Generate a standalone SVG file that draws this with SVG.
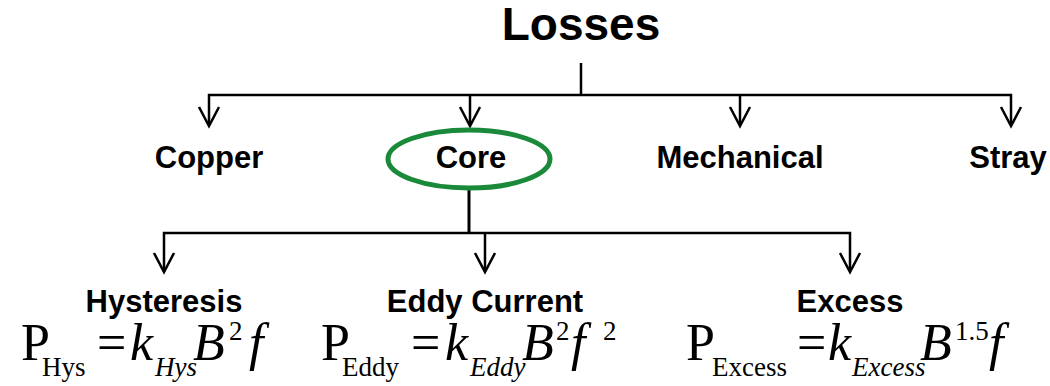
<svg xmlns="http://www.w3.org/2000/svg" width="1050" height="386" viewBox="0 0 1050 386">
<style>
.ln{stroke:#000;stroke-width:2.5;fill:none}
.ah{stroke:#000;stroke-width:2.5;fill:none;stroke-linejoin:miter}
.lbl{font-family:"Liberation Sans",Arial,sans-serif;font-weight:bold;font-size:31px;fill:#000;text-anchor:middle}
.ttl{font-family:"Liberation Sans",Arial,sans-serif;font-weight:bold;font-size:46px;fill:#000;text-anchor:middle}
.eq{font-family:"Liberation Serif","Times New Roman",serif;fill:#000}
.big{font-size:52px}
.sm{font-size:27px}
.it{font-style:italic}
</style>
<defs>
<path id="arr" class="ah" d="M-10,-19 L0,0 L10,-19"/>
</defs>
<rect width="1050" height="386" fill="#fff"/>
<g id="connectors">
<path class="ln" d="M581,63 V95"/>
<path class="ln" d="M209,125 V95 H1011 V125"/>
<path class="ln" d="M470,95 V125"/>
<path class="ln" d="M740,95 V125"/>
<use href="#arr" x="209" y="126"/>
<use href="#arr" x="470" y="126"/>
<use href="#arr" x="740" y="126"/>
<use href="#arr" x="1011" y="126"/>
<path class="ln" style="stroke-width:3" d="M469,190 V234"/>
<path class="ln" d="M164,271 V233 H850 V271"/>
<path class="ln" d="M485,233 V271"/>
<use href="#arr" x="164" y="272"/>
<use href="#arr" x="485" y="272"/>
<use href="#arr" x="850" y="272"/>
</g>
<g id="losses"><text class="ttl" x="581" y="40">Losses</text></g>
<g id="copper"><text class="lbl" x="209" y="168">Copper</text></g>
<g id="core">
<ellipse cx="469" cy="159" rx="81" ry="29" fill="none" stroke="#1a8a3a" stroke-width="5"/>
<text class="lbl" x="471" y="168">Core</text>
</g>
<g id="mechanical"><text class="lbl" x="740" y="168">Mechanical</text></g>
<g id="stray"><text class="lbl" x="1008" y="168">Stray</text></g>
<g id="hysteresis">
<text class="lbl" x="164" y="312">Hysteresis</text>
<text class="eq">
<tspan class="big" x="21" y="360">P</tspan><tspan class="sm" x="42" y="376">Hys</tspan><tspan class="big" x="97" y="360">=</tspan><tspan class="big it" x="130" y="360">k</tspan><tspan class="sm it" x="155" y="376">Hys</tspan><tspan class="big it" x="193" y="360">B</tspan><tspan class="sm" x="229" y="340">2</tspan><tspan class="big it" x="249" y="360">f</tspan>
</text>
</g>
<g id="eddy">
<text class="lbl" x="485" y="312">Eddy Current</text>
<text class="eq">
<tspan class="big" x="321" y="360">P</tspan><tspan class="sm" x="342" y="376">Eddy</tspan><tspan class="big" x="411" y="360">=</tspan><tspan class="big it" x="445" y="360">k</tspan><tspan class="sm it" x="470" y="376">Eddy</tspan><tspan class="big it" x="522" y="360">B</tspan><tspan class="sm" x="556" y="340">2</tspan><tspan class="big it" x="571" y="360">f</tspan><tspan class="sm" x="603" y="340">2</tspan>
</text>
</g>
<g id="excess">
<text class="lbl" x="850" y="312">Excess</text>
<text class="eq">
<tspan class="big" x="686" y="360">P</tspan><tspan class="sm" x="712" y="376">Excess</tspan><tspan class="big" x="797" y="360">=</tspan><tspan class="big it" x="828" y="360">k</tspan><tspan class="sm it" x="852" y="376">Excess</tspan><tspan class="big it" x="920" y="360">B</tspan><tspan class="sm" x="955" y="340">1.5</tspan><tspan class="big it" x="989" y="360">f</tspan>
</text>
</g>
</svg>
